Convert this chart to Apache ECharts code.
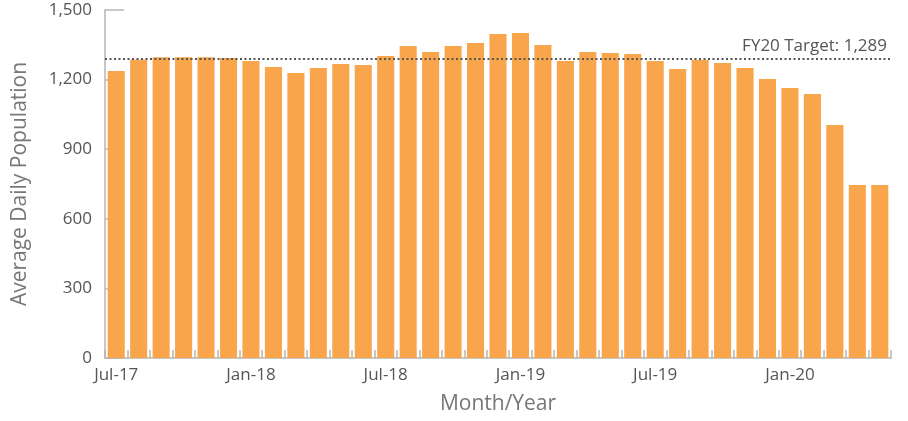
<!DOCTYPE html>
<html>
<head>
<meta charset="utf-8">
<script src="https://cdn.jsdelivr.net/npm/echarts@6/dist/echarts.min.js"></script>
<style>
  html, body { margin: 0; padding: 0; background: #fff; }
  #chartWrapper { width: 908px; height: 421px; }
</style>
</head>
<body>
<div id="chartWrapper"></div>
<script>
// months from Jul-17 to May-20
let months = [
    'Jul-17', 'Aug-17', 'Sep-17', 'Oct-17', 'Nov-17', 'Dec-17',
    'Jan-18', 'Feb-18', 'Mar-18', 'Apr-18', 'May-18', 'Jun-18',
    'Jul-18', 'Aug-18', 'Sep-18', 'Oct-18', 'Nov-18', 'Dec-18',
    'Jan-19', 'Feb-19', 'Mar-19', 'Apr-19', 'May-19', 'Jun-19',
    'Jul-19', 'Aug-19', 'Sep-19', 'Oct-19', 'Nov-19', 'Dec-19',
    'Jan-20', 'Feb-20', 'Mar-20', 'Apr-20', 'May-20'
];

// average daily population
let population = [
    1237, 1286, 1296, 1296, 1296, 1293,
    1280, 1254, 1228, 1250, 1267, 1263,
    1302, 1345, 1319, 1345, 1358, 1397,
    1401, 1349, 1280, 1319, 1315, 1310,
    1280, 1246, 1284, 1272, 1250, 1203,
    1164, 1138, 1004, 746, 746
];

let targetValue = 1289;
let targetLabel = 'FY20 Target: 1,289';
let yTicks = [0, 300, 600, 900, 1200, 1500];

let fontName = 'Open Sans';

function initChart() {
    let myChart = echarts.init(document.getElementById('chartWrapper'));

    let option = {
        animation: false,
        grid: {
            left: 105,
            right: 17,
            top: 10,
            bottom: 63
        },
        xAxis: {
            type: 'category',
            data: months,
            name: 'Month/Year',
            nameLocation: 'middle',
            nameGap: 36,
            nameTextStyle: {
                color: '#777',
                fontSize: 21,
                fontFamily: fontName
            },
            axisLine: { lineStyle: { color: '#b5b5b5', width: 1.5 } },
            axisTick: {
                show: true,
                inside: true,
                length: 8,
                interval: 0,
                lineStyle: { color: '#b5b5b5', width: 1.5 }
            },
            axisLabel: {
                interval: 5,
                margin: 9,
                color: '#555',
                fontSize: 17,
                fontFamily: fontName
            }
        },
        yAxis: {
            type: 'value',
            min: yTicks[0],
            max: yTicks[yTicks.length - 1],
            interval: 300,
            name: 'Average Daily Population',
            nameLocation: 'middle',
            nameGap: 74,
            nameTextStyle: {
                color: '#777',
                fontSize: 21,
                fontFamily: fontName
            },
            axisLine: { show: true, lineStyle: { color: '#b5b5b5', width: 1.5 } },
            axisTick: {
                show: true,
                inside: true,
                length: 19,
                lineStyle: { color: '#b5b5b5', width: 1.5 }
            },
            splitLine: { show: false },
            axisLabel: {
                margin: 13,
                color: '#555',
                fontSize: 17,
                fontFamily: fontName,
                formatter: function (v) {
                    return v.toLocaleString('en-US');
                }
            }
        },
        series: [{
            type: 'bar',
            data: population,
            barCategoryGap: '24%',
            itemStyle: { color: '#f8a54b' },
            markLine: {
                silent: true,
                symbol: 'none',
                z: 5,
                lineStyle: {
                    color: '#555',
                    type: [2, 2.5],
                    width: 2
                },
                label: {
                    position: 'insideEndTop',
                    formatter: targetLabel,
                    color: '#555',
                    fontSize: 17,
                    fontFamily: fontName,
                    distance: [4, 4]
                },
                data: [{ yAxis: targetValue }]
            }
        }]
    };

    myChart.setOption(option);
}

initChart();
</script>
</body>
</html>
